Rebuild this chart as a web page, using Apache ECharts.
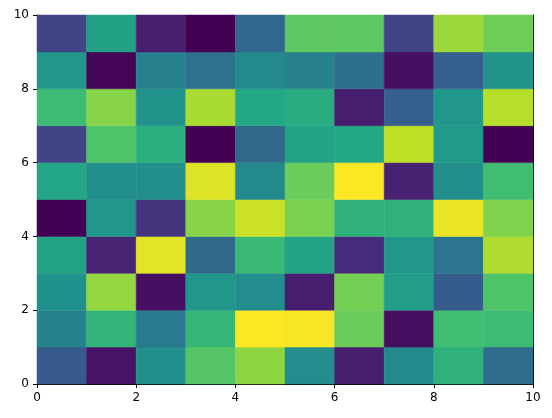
<!DOCTYPE html>
<html>
<head>
<meta charset="utf-8">
<script src="https://cdn.jsdelivr.net/npm/echarts@6/dist/echarts.min.js"></script>
<style>html,body{margin:0;padding:0;background:#fff}#c{width:552px;height:418px}</style>
</head>
<body>
<div id="c"></div>
<script>
// Cell values, row index = y cell (0 at bottom), column index = x cell
var row0 = [0.28, 0.05, 0.49, 0.73, 0.83, 0.48, 0.08, 0.47, 0.64, 0.35];
var row1 = [0.44, 0.65, 0.41, 0.66, 1.00, 0.99, 0.77, 0.04, 0.69, 0.68];
var row2 = [0.50, 0.84, 0.04, 0.52, 0.48, 0.08, 0.79, 0.55, 0.29, 0.72];
var row3 = [0.58, 0.10, 0.96, 0.34, 0.67, 0.58, 0.12, 0.52, 0.39, 0.88];
var row4 = [0.00, 0.52, 0.15, 0.82, 0.92, 0.80, 0.64, 0.64, 0.97, 0.81];
var row5 = [0.59, 0.49, 0.49, 0.95, 0.47, 0.77, 1.00, 0.09, 0.49, 0.69];
var row6 = [0.20, 0.72, 0.63, 0.00, 0.34, 0.58, 0.60, 0.90, 0.54, 0.00];
var row7 = [0.68, 0.82, 0.51, 0.87, 0.60, 0.62, 0.08, 0.30, 0.52, 0.89];
var row8 = [0.52, 0.01, 0.43, 0.37, 0.47, 0.43, 0.36, 0.04, 0.30, 0.51];
var row9 = [0.20, 0.57, 0.08, 0.00, 0.33, 0.75, 0.75, 0.20, 0.85, 0.78];
var rows = [row0, row1, row2, row3, row4, row5, row6, row7, row8, row9];
var ticks = [0, 2, 4, 6, 8, 10];

var viridis = ['#440154','#482475','#414487','#355f8d','#2a788e','#21918c','#22a884','#44bf70','#7ad151','#bddf26','#fde725'];

var data = [];
rows.forEach(function (r, y) {
  r.forEach(function (v, x) { data.push([x, y, v]); });
});

var chart = echarts.init(document.getElementById('c'), null, {renderer: 'canvas'});
var axisCommon = {
  type: 'value', min: 0, max: 10, interval: 2,
  axisLine: {show: true, onZero: false, lineStyle: {color: '#000', width: 1}},
  axisTick: {show: true, inside: false, length: 4, lineStyle: {color: '#000', width: 1}},
  axisLabel: {show: true, color: '#000', fontSize: 12, fontFamily: 'DejaVu Sans', margin: 8},
  splitLine: {show: false}
};
function mk(extra) { return Object.assign({}, JSON.parse(JSON.stringify(axisCommon)), extra); }
chart.setOption({
  animation: false,
  grid: {left: 37, right: 19, top: 15, bottom: 34},
  xAxis: [
    mk({position: 'bottom', axisLabel: Object.assign({}, axisCommon.axisLabel, {formatter: function (v) { return ticks.indexOf(v) >= 0 ? String(v) : ''; }})}),
    mk({position: 'top', axisTick: {show: false}, axisLabel: {show: false}})
  ],
  yAxis: [
    mk({position: 'left'}),
    mk({position: 'right', axisTick: {show: false}, axisLabel: {show: false}})
  ],
  visualMap: {show: false, type: 'continuous', min: 0, max: 1, dimension: 2, seriesIndex: 0, inRange: {color: viridis}},
  series: [{
    type: 'custom',
    data: data,
    encode: {x: 0, y: 1},
    renderItem: function (params, api) {
      var x = api.value(0), y = api.value(1);
      var p0 = api.coord([x, y + 1]);
      var p1 = api.coord([x + 1, y]);
      return {
        type: 'rect',
        shape: {x: p0[0], y: p0[1], width: p1[0] - p0[0], height: p1[1] - p0[1]},
        style: {fill: api.visual('color'), stroke: api.visual('color'), lineWidth: 0.5}
      };
    }
  }]
});
</script>
</body>
</html>
